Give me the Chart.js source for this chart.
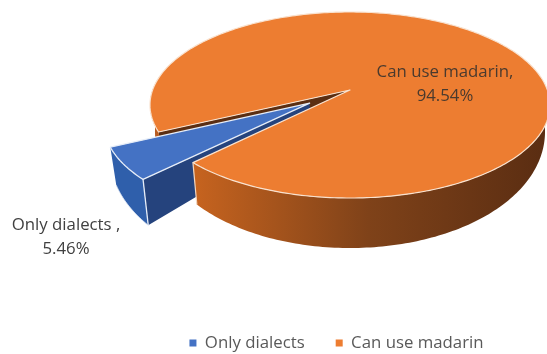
<!DOCTYPE html>
<html>
<head>
<meta charset="utf-8">
<style>
  html, body { margin: 0; padding: 0; background: #fff; }
  #wrap { width: 547px; height: 354px; overflow: hidden; }
</style>
<script src="https://cdn.jsdelivr.net/npm/chart.js@4"></script>
</head>
<body>
<div id="wrap"><canvas id="chart-dialects" width="547" height="354"></canvas></div>
<script>
const categories = ['Only dialects', 'Can use madarin'];
const shares = [5.46, 94.54];
const sliceColors = ['#4472C4', '#ED7D31'];

const FONT = '"Open Sans", sans-serif';
const FONT_SIZE = 16.8;
const START_DEG = 224.8;   // first slice starts lower left
const EXPLODE = 0.245;     // pull-out of the small slice, in radii

// tilted disc: unit-circle coords (u, v) to canvas px, v grows toward the viewer
const cx = 350, cy = 90, A = 197.4, B = 90.6, K = 0.1613;

function project(u, v, lower) {
  const w = 1 - K * v;
  let x = cx + A * u / w;
  let y = cy + B * v / w;
  if (lower) {
    x = cx + (x - cx) * 0.975;
    y += 22 + 28 * v;
  }
  return [x, y];
}

function rimPoints(a0, a1, dx, dy, lower) {
  const pts = [];
  const n = Math.max(2, Math.ceil(Math.abs(a1 - a0) / (Math.PI / 180)));
  for (let i = 0; i <= n; i++) {
    const a = a0 + (a1 - a0) * i / n;
    pts.push(project(Math.cos(a) + dx, Math.sin(a) + dy, lower));
  }
  return pts;
}

function tracePath(c, pts, close) {
  c.beginPath();
  pts.forEach((p, i) => i ? c.lineTo(p[0], p[1]) : c.moveTo(p[0], p[1]));
  if (close) c.closePath();
}

function fillPath(c, pts, fill) {
  tracePath(c, pts, true);
  c.fillStyle = fill;
  c.fill();
}

function strokePath(c, pts, color, width, close) {
  tracePath(c, pts, close);
  c.strokeStyle = color;
  c.lineWidth = width;
  c.lineJoin = 'round';
  c.stroke();
}

function wall(a0, a1, dx, dy) {
  return rimPoints(a0, a1, dx, dy, false).concat(rimPoints(a0, a1, dx, dy, true).reverse());
}

function radialFace(a, dx, dy) {
  return [
    project(dx, dy, false),
    project(Math.cos(a) + dx, Math.sin(a) + dy, false),
    project(Math.cos(a) + dx, Math.sin(a) + dy, true),
    project(dx, dy, true),
  ];
}

function drawSmallSlice(c, arc) {
  const a0 = arc.startAngle, a1 = arc.endAngle, mid = (a0 + a1) / 2;
  const dx = Math.cos(mid) * EXPLODE, dy = Math.sin(mid) * EXPLODE;
  const corner = project(Math.cos(a0) + dx, Math.sin(a0) + dy, false);
  const cornerLow = project(Math.cos(a0) + dx, Math.sin(a0) + dy, true);
  const top = rimPoints(a0, a1, dx, dy, false);

  fillPath(c, wall(a0, a1, dx, dy), '#2F5FAB');
  fillPath(c, radialFace(a0, dx, dy), '#25437D');
  fillPath(c, [project(dx, dy, false)].concat(top), sliceColors[0]);
  strokePath(c, [project(dx, dy, false)].concat(top), '#E6EDF8', 1.3, true);
  strokePath(c, [corner, cornerLow], '#E6EDF8', 1.3, false);
  strokePath(c, rimPoints(a0, a1, dx, dy, true), '#DCE6F5', 0.8, false);
}

function drawLargeSlice(c, arc) {
  const a0 = arc.startAngle, a1 = arc.endAngle;
  const apex = project(0, 0, false);
  const top = rimPoints(a0, a1, 0, 0, false);

  // front wall, lit from the left
  const shade = c.createLinearGradient(190, 0, 547, 0);
  shade.addColorStop(0, '#C8641F');
  shade.addColorStop(0.5, '#7F4219');
  shade.addColorStop(1, '#5A2D12');
  fillPath(c, wall(Math.PI * 2, a1, 0, 0), shade);

  const edge = radialFace(a1, 0, 0);
  strokePath(c, [edge[1], edge[2]], '#F4D6BE', 1.2, false);

  fillPath(c, [apex].concat(top), sliceColors[1]);
  strokePath(c, [apex].concat(top), '#F9E2CF', 1.2, true);
}

function drawLargeSliceBack(c, arc) {
  const a0 = arc.startAngle;
  fillPath(c, radialFace(a0, 0, 0), '#5B2E12');
  fillPath(c, wall(a0, Math.PI * 1.05, 0, 0), '#B85C20');
}

const pie3d = {
  id: 'pie3d',
  // legend padding also spaces the two entries, so the row gets pushed back down
  afterLayout(chart) {
    chart.legend.top += 7.5;
    chart.legend.bottom += 7.5;
  },
  beforeDatasetsDraw(chart) {
    const c = chart.ctx;
    const [small, large] = chart.getDatasetMeta(0).data;
    c.save();
    drawLargeSliceBack(c, large);
    drawSmallSlice(c, small);
    drawLargeSlice(c, large);
    c.restore();
    return false;
  },
  // returning false above skips afterDatasetsDraw, so the labels go here
  afterDraw(chart) {
    const c = chart.ctx;
    const spots = [[66, 225, '#404040', ' ,'], [445, 72, '#4A3A2E', ',']];
    c.save();
    c.font = FONT_SIZE + 'px ' + FONT;
    c.textAlign = 'center';
    c.textBaseline = 'middle';
    categories.forEach((name, i) => {
      const [x, y, color, sep] = spots[i];
      c.fillStyle = color;
      c.fillText(name + sep, x, y);
      c.fillText(shares[i].toFixed(2) + '%', x, y + 24.5);
    });
    c.restore();
  },
};

new Chart(document.getElementById('chart-dialects').getContext('2d'), {
  type: 'pie',
  data: {
    labels: categories,
    datasets: [{
      data: shares,
      backgroundColor: sliceColors,
      borderWidth: 0,
    }],
  },
  options: {
    responsive: false,
    animation: false,
    rotation: START_DEG,
    layout: { padding: { left: 112, right: -14 } },
    plugins: {
      tooltip: { enabled: false },
      legend: {
        position: 'bottom',
        labels: {
          color: '#595959',
          font: { family: FONT, size: FONT_SIZE },
          boxWidth: 7,
          boxHeight: 7,
          padding: 31,
        },
      },
    },
  },
  plugins: [pie3d],
});
</script>
</body>
</html>
